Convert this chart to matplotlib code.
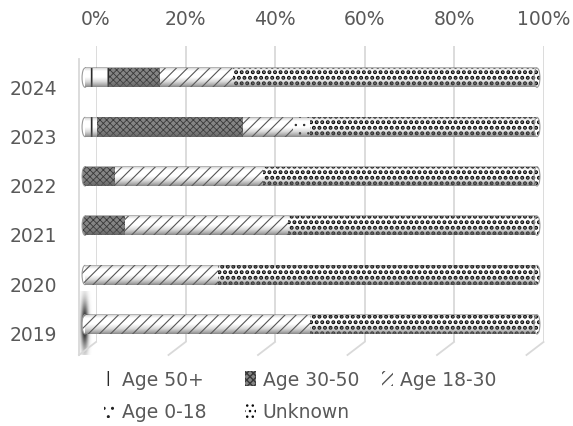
import numpy as np
import matplotlib
matplotlib.use("Agg")
import matplotlib.pyplot as plt
import matplotlib.transforms as mtransforms
from matplotlib.patches import Patch, Ellipse
from matplotlib.lines import Line2D

# Share of cases per age group and year (percent of the yearly total)
years = ["2019", "2020", "2021", "2022", "2023", "2024"]
age_50_plus = [0.0, 0.0, 0.0, 0.0, 2.6, 5.2]
age_30_50 = [0.0, 0.0, 8.8, 6.6, 32.3, 11.4]
age_18_30 = [49.8, 29.4, 36.1, 32.8, 11.1, 16.1]
age_0_18 = [0.0, 0.0, 0.0, 0.0, 3.8, 0.0]
unknown = [50.2, 70.6, 55.1, 60.6, 50.2, 67.3]

series_names = ["Age 50+", "Age 30-50", "Age 18-30", "Age 0-18", "Unknown"]
pct_ticks = [0, 20, 40, 60, 80, 100]
pct_labels = ["0%", "20%", "40%", "60%", "80%", "100%"]

# pattern style per series: face colour, hatch, hatch colour, hatch width
styles = {
    "Age 50+": dict(face="white", hatch="|", hcol="#2a2a2a", hlw=1.2),
    "Age 30-50": dict(face="#858585", hatch="xxxxx", hcol="#383838", hlw=0.6),
    "Age 18-30": dict(face="white", hatch="///", hcol="#555555", hlw=0.8),
    "Age 0-18": dict(face="white", hatch="..", hcol="#222222", hlw=0.5),
    "Unknown": dict(face="white", hatch="...", hcol="#0a0a0a", hlw=2.0),
}

TEXT = "#595959"
GRID = "#d9d9d9"
FS = 13.5
W, H = 573, 427

plt.rcParams["font.family"] = ["DejaVu Sans"]
fig = plt.figure(figsize=(W / 100, H / 100), dpi=100)


def fig_rect(left, top, right, bottom):
    return [left / W, 1 - bottom / H, (right - left) / W, (bottom - top) / H]


# back wall with the percentage scale and vertical gridlines
ax_back = fig.add_axes(fig_rect(96, 47, 543.5, 343))
ax_back.set_xlim(0, 100)
ax_back.set_ylim(0, 1)
ax_back.xaxis.tick_top()
ax_back.set_xticks(pct_ticks)
ax_back.set_xticklabels(pct_labels, color=TEXT, fontsize=FS)
ax_back.tick_params(axis="x", length=0, pad=13)
ax_back.set_yticks([])
ax_back.grid(axis="x", color=GRID, linewidth=1.3)
for s in ax_back.spines.values():
    s.set_visible(False)
ax_back.set_facecolor("none")

# floor edges running toward the viewer, plus the front edge of the left wall
depth = np.array([-17.0, -13.0])
to_fig = fig.transFigure.inverted()
for v in pct_ticks:
    p0 = ax_back.transData.transform((v, 0))
    p1 = p0 + depth
    a, b = to_fig.transform([p0, p1])
    fig.add_artist(Line2D([a[0], b[0]], [a[1], b[1]], color=GRID, lw=1.3))
top0 = ax_back.transData.transform((0, 1)) + depth
bot0 = ax_back.transData.transform((0, 0)) + depth
a, b = to_fig.transform([top0, bot0])
fig.add_artist(Line2D([a[0], b[0]], [a[1], b[1]], color=GRID, lw=1.3))

# front plane holding the cylinders
ax = fig.add_axes(fig_rect(85, 54, 537, 350))
ax.set_facecolor("none")
for s in ax.spines.values():
    s.set_visible(False)

values = [age_50_plus, age_30_50, age_18_30, age_0_18, unknown]
ypos = np.arange(len(years))
bar_h = 0.39
cap_w = 1.3

# dark shading on the side wall beside the first cylinder
sx0, sx1, sy0, sy1 = -1.4, 2.2, -0.62, 0.66
yy, xx = np.mgrid[sy1:sy0:100j, sx0:sx1:50j]
blob = np.exp(-((xx + 0.2) ** 2) / (2 * 0.55 ** 2)
              - ((yy + 0.02) ** 2) / (2 * 0.32 ** 2))
shadow = np.zeros(blob.shape + (4,))
shadow[..., :3] = 0.18
shadow[..., 3] = np.clip(1.15 * blob, 0, 1)
ax.imshow(shadow, extent=(sx0, sx1, sy0, sy1), aspect="auto",
          zorder=1, interpolation="bilinear", clip_on=False)

left = np.zeros(len(years))
for name, vals in zip(series_names, values):
    st = styles[name]
    with plt.rc_context({"hatch.linewidth": st["hlw"]}):
        ax.barh(ypos, vals, left=left, height=bar_h, color=st["face"],
                hatch=st["hatch"], edgecolor=st["hcol"], linewidth=0,
                zorder=2)
    left = left + np.array(vals)

# rounded ends of each cylinder
for i in range(len(years)):
    present = [n for n, v in zip(series_names, values) if v[i] > 0]
    for name, xc, z in ((present[0], 0, 1.5), (present[-1], 100, 4)):
        st = styles[name]
        with plt.rc_context({"hatch.linewidth": st["hlw"]}):
            ax.add_patch(Ellipse((xc, ypos[i]), cap_w, bar_h,
                                 facecolor=st["face"], hatch=st["hatch"],
                                 edgecolor=st["hcol"], linewidth=0, zorder=z,
                                 clip_on=False))
        ax.add_patch(Ellipse((xc, ypos[i]), cap_w, bar_h, facecolor="none",
                             edgecolor="#9a9a9a", linewidth=0.8,
                             zorder=z + 0.1, clip_on=False))

# cylinder shading: darker rims, bright band just above the middle
t = np.linspace(0, 1, 64)
alpha = np.interp(t, [0, 0.06, 0.2, 0.5, 0.72, 0.88, 1.0],
                  [0.6, 0.2, 0.0, 0.0, 0.22, 0.5, 0.75])
shade = np.zeros((64, 1, 4))
shade[..., :3] = 0.38
shade[:, 0, 3] = alpha
for y in ypos:
    ax.imshow(shade, extent=(0, 100, y - bar_h / 2, y + bar_h / 2),
              aspect="auto", zorder=3, interpolation="bilinear")

ax.set_xlim(0, 100)
ax.set_ylim(-0.5, len(years) - 0.5)
ax.set_xticks([])
ax.set_yticks(ypos)
ax.set_yticklabels(years, color=TEXT, fontsize=FS)
ax.tick_params(axis="y", length=0, pad=20)
offset = mtransforms.ScaledTranslation(0, -6 / 72, fig.dpi_scale_trans)
for lbl in ax.get_yticklabels():
    lbl.set_transform(lbl.get_transform() + offset)


# legend laid out in three evenly spaced columns
def legend_handle(name):
    st = styles[name]
    with plt.rc_context({"hatch.linewidth": st["hlw"]}):
        return Patch(facecolor=st["face"], hatch=st["hatch"],
                     edgecolor=st["hcol"], linewidth=0, label=name)


columns = [(104, ["Age 50+", "Age 0-18"]),
           (245, ["Age 30-50", "Unknown"]),
           (382, ["Age 18-30"])]
for x_px, names in columns:
    fig.legend(handles=[legend_handle(n) for n in names], ncol=1,
               loc="upper left", bbox_to_anchor=(x_px / W, 1 - 371 / H),
               frameon=False, fontsize=FS, labelcolor=TEXT,
               handlelength=0.6, handleheight=0.8, handletextpad=0.35,
               labelspacing=0.7, borderpad=0, borderaxespad=0)

fig.savefig("out.png", dpi=100)
